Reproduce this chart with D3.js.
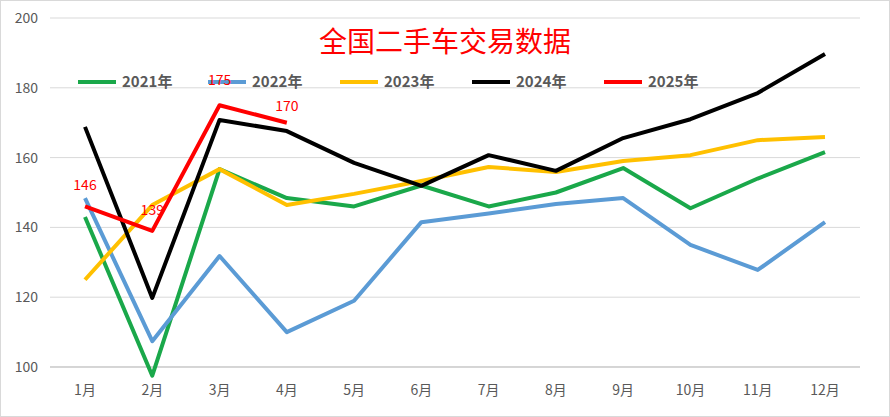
<!DOCTYPE html><html><head><meta charset="utf-8"><script src="https://cdn.jsdelivr.net/npm/d3@7"></script>
<style>body{margin:0;background:#fff}</style></head><body><svg id="c" width="890" height="417"></svg>
<script>
const months=["1月","2月","3月","4月","5月","6月","7月","8月","9月","10月","11月","12月"];
const yTicks=[100,120,140,160,180,200];
const s2021=[143,97.5,156.7,148.4,146,152,146,150,157,145.5,154,161.6];
const s2022=[148.4,107.4,131.8,110,119,141.5,144,146.7,148.4,135,127.8,141.5];
const s2023=[125,146.4,156.7,146.4,149.6,153.3,157.3,155.9,159,160.7,165,165.9];
const s2024=[168.8,119.8,170.8,167.6,158.5,151.9,160.7,156.2,165.6,171,178.5,189.7];
const s2025=[146,139,175,170];
const names=["2021年","2022年","2023年","2024年","2025年"];
const colors=["#1aa84a","#5b9bd5","#ffc000","#000000","#ff0000"];
const series=[s2021,s2022,s2023,s2024,s2025];
const svg=d3.select("#c");
svg.append("rect").attr("x",0.5).attr("y",0.5).attr("width",889).attr("height",416).attr("fill","#fff").attr("stroke","#d9d9d9");
const L=50,R=860,T=18,B=367;
const x=d3.scalePoint().domain(months).range([85,825]);
const y=d3.scaleLinear().domain([100,200]).range([B,T]);
const g=svg.append("g");
yTicks.forEach(t=>{g.append("line").attr("x1",L).attr("x2",R).attr("y1",y(t)).attr("y2",y(t)).attr("stroke","#d9d9d9");
 g.append("text").attr("x",L-12).attr("y",y(t)+5).attr("text-anchor","end").attr("font-family","Noto Sans CJK SC").attr("font-size",14).attr("fill","#595959").text(t);});
g.append("line").attr("x1",L).attr("x2",R).attr("y1",B).attr("y2",B).attr("stroke","#bfbfbf");
months.forEach(m=>g.append("text").attr("x",x(m)).attr("y",395).attr("text-anchor","middle").attr("font-family","Noto Sans CJK SC").attr("font-size",14).attr("fill","#595959").text(m));
const line=d3.line().x((d,i)=>x(months[i])).y(d=>y(d));
series.forEach((s,k)=>svg.append("path").attr("d",line(s)).attr("fill","none").attr("stroke",colors[k]).attr("stroke-width",4).attr("stroke-linejoin","round"));
const lx=[78,208,340,472,604];
names.forEach((n,k)=>{svg.append("line").attr("x1",lx[k]).attr("x2",lx[k]+38).attr("y1",82).attr("y2",82).attr("stroke",colors[k]).attr("stroke-width",4);
 svg.append("text").attr("x",lx[k]+44).attr("y",87).attr("font-family","Noto Sans CJK SC").attr("font-weight","bold").attr("font-size",15).attr("fill","#595959").text(n);});
svg.append("text").attr("x",445).attr("y",52).attr("text-anchor","middle").attr("font-family","Noto Sans CJK SC").attr("font-size",28).attr("fill","#ff0000").text("全国二手车交易数据");
const lbl=[[0,-16],[0,-16],[0,-20],[0,-12]];
s2025.forEach((v,i)=>svg.append("text").attr("x",x(months[i])+lbl[i][0]).attr("y",y(v)+lbl[i][1]).attr("text-anchor","middle").attr("font-family","Noto Sans CJK SC").attr("font-size",14).attr("fill","#ff0000").text(v));
</script></body></html>
